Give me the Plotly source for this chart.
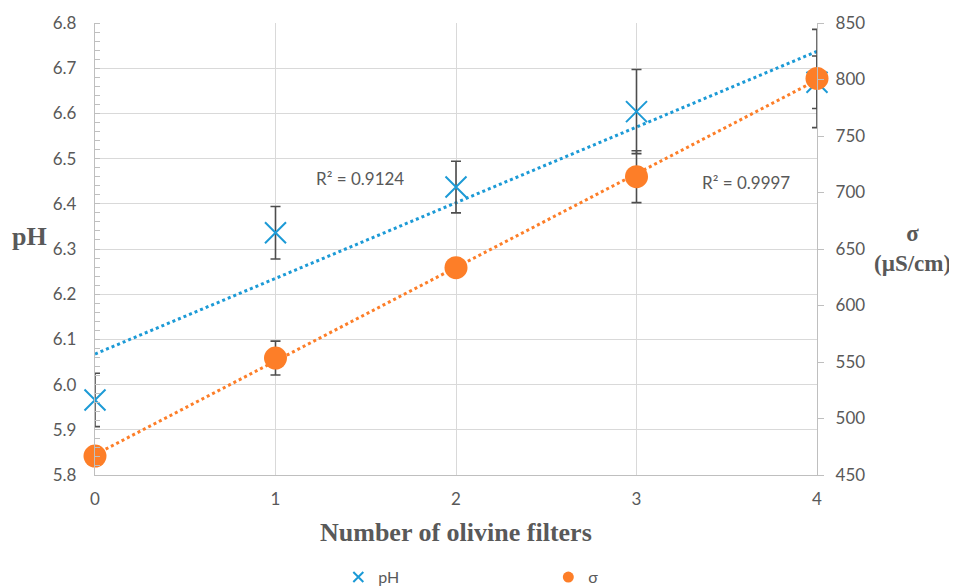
import numpy as np
import plotly.graph_objects as go

filters = [0, 1, 2, 3, 4]
ph_values = [5.966, 6.336, 6.437, 6.604, 6.669]
ph_errors = [0.059, 0.058, 0.057, 0.093, 0.058]
sigma_values = [466.8, 553.5, 633.5, 714.0, 800.9]
sigma_errors = [6, 15, 7, 23, 43.5]
ph_ticks = [5.8, 5.9, 6.0, 6.1, 6.2, 6.3, 6.4, 6.5, 6.6, 6.7, 6.8]
sigma_ticks = [450, 500, 550, 600, 650, 700, 750, 800, 850]
r2_labels = ["R² = 0.9124", "R² = 0.9997"]

BLUE = "#1C9AD6"
ORANGE = "#FD7E28"
GRAY = "#595959"
GRID = "#D9D9D9"
ERR = "#4D4D4D"

fig = go.Figure()

# trend lines (linear least-squares fits of the data)
xs = np.array([filters[0], filters[-1]], dtype=float)
p_ph = np.polyfit(filters, ph_values, 1)
p_sg = np.polyfit(filters, sigma_values, 1)
fig.add_trace(go.Scatter(x=xs, y=np.polyval(p_ph, xs), mode="lines",
                         line=dict(color=BLUE, width=3, dash="dot"),
                         showlegend=False, hoverinfo="skip"))
fig.add_trace(go.Scatter(x=xs, y=np.polyval(p_sg, xs), mode="lines", yaxis="y2",
                         line=dict(color=ORANGE, width=3, dash="dot"),
                         showlegend=False, hoverinfo="skip"))

fig.add_trace(go.Scatter(
    x=filters, y=ph_values, mode="markers", name="pH", showlegend=False, cliponaxis=False,
    marker=dict(symbol="x-thin", size=21, line=dict(color=BLUE, width=2), color=BLUE),
    error_y=dict(type="data", array=ph_errors, visible=True, color=ERR, thickness=1.6, width=5),
))
fig.add_trace(go.Scatter(
    x=filters, y=sigma_values, mode="markers", name="σ", yaxis="y2", showlegend=False,
    cliponaxis=False,
    marker=dict(symbol="circle", size=23, color=ORANGE),
    error_y=dict(type="data", array=sigma_errors, visible=True, color=ERR, thickness=1.6, width=5),
))

# legend entries
fig.add_trace(go.Scatter(x=[None], y=[None], mode="markers", name="pH",
                         marker=dict(symbol="x-thin", size=10, line=dict(color=BLUE, width=2), color=BLUE)))
fig.add_trace(go.Scatter(x=[None], y=[None], mode="markers", name="σ",
                         marker=dict(symbol="circle", size=11, color=ORANGE)))

font_ticks = dict(family="Lato", size=17, color=GRAY)
title_font = dict(family="Liberation Serif", size=26, color=GRAY)

fig.update_layout(
    width=957, height=586,
    margin=dict(l=87, r=148, t=15, b=119, autoexpand=False),
    paper_bgcolor="white", plot_bgcolor="white",
    xaxis=dict(range=[0, 4], tickvals=filters, ticktext=[str(v) for v in filters],
               showgrid=True, gridcolor=GRID, gridwidth=1.3,
               showline=True, linecolor="#BFBFBF", linewidth=1.3, automargin=False,
               tickfont=font_ticks, ticks="", zeroline=False, ticklabelstandoff=8),
    yaxis=dict(range=[5.8, 6.8], tickvals=ph_ticks, tickformat=".1f",
               showgrid=True, gridcolor=GRID, gridwidth=1.3, automargin=False,
               showline=True, linecolor="#BFBFBF", linewidth=1.3,
               tickfont=font_ticks, ticks="", zeroline=False, ticklabelstandoff=14,
               minor=dict(dtick=0.02, ticks="inside", ticklen=5, tickcolor="#BFBFBF", showgrid=False)),
    yaxis2=dict(range=[450, 850], tickvals=sigma_ticks, overlaying="y", side="right",
                showgrid=False, showline=True, linecolor="#BFBFBF", linewidth=1.3,
                ticks="outside", ticklen=6, tickcolor="#BFBFBF", automargin=False,
                tickfont=font_ticks, zeroline=False, ticklabelstandoff=8),
    legend=dict(orientation="h", x=0.337, xanchor="left", y=-0.226, yanchor="middle",
                font=dict(family="Lato", size=16, color=GRAY),
                entrywidth=165, entrywidthmode="pixels", itemwidth=30,
                bgcolor="rgba(0,0,0,0)"),
    showlegend=True,
)

fig.add_annotation(text="<b>pH</b>", xref="paper", yref="paper", x=-0.0914, y=0.527,
                   xanchor="center", yanchor="middle", showarrow=False, font=title_font)
fig.add_annotation(text="<b>σ<br>(µS/cm)</b>", xref="paper", yref="paper", x=1.1316, y=0.502,
                   xanchor="center", yanchor="middle", showarrow=False,
                   font=dict(family="Liberation Serif", size=23, color=GRAY))
fig.add_annotation(text="<b>Number of olivine filters</b>", xref="paper", yref="paper",
                   x=0.5, y=-0.128, xanchor="center", yanchor="middle", showarrow=False,
                   font=title_font)
fig.add_annotation(text=r2_labels[0], x=1.467, y=6.457, xref="x", yref="y",
                   xanchor="center", yanchor="middle", showarrow=False,
                   font=dict(family="Lato", size=17, color=GRAY))
fig.add_annotation(text=r2_labels[1], x=3.608, y=6.448, xref="x", yref="y",
                   xanchor="center", yanchor="middle", showarrow=False,
                   font=dict(family="Lato", size=17, color=GRAY))

fig.write_html("out.html")
